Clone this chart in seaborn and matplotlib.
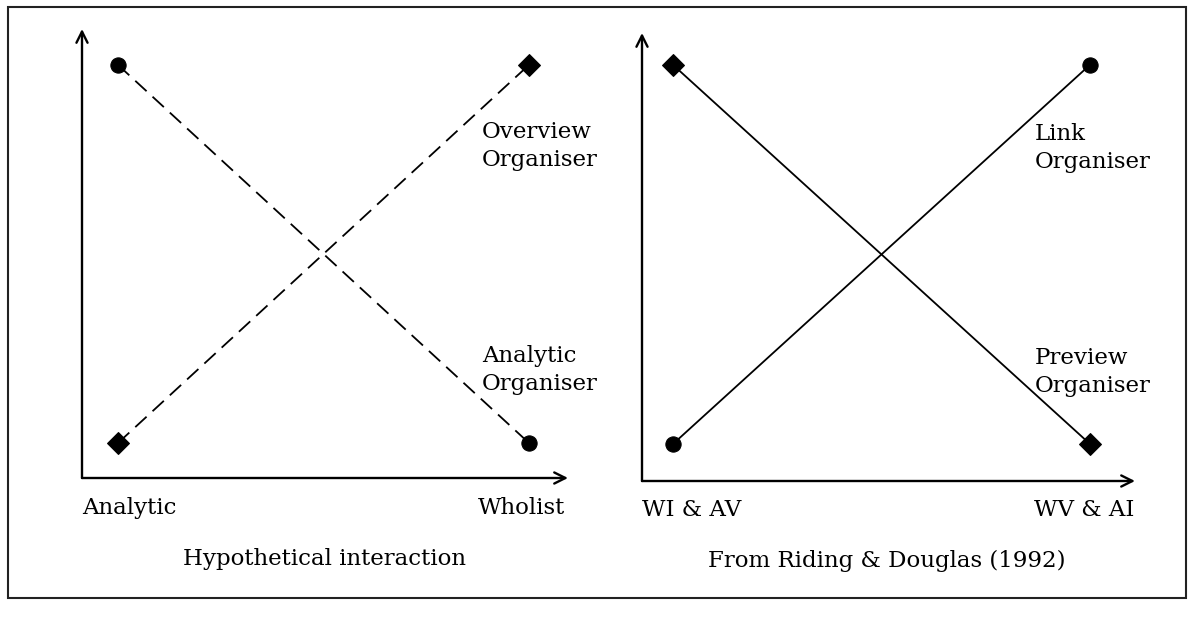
import pandas as pd
import matplotlib
matplotlib.use('Agg')
import matplotlib.pyplot as plt
import seaborn as sns
from matplotlib.patches import Rectangle

sns.set_style('white')
plt.rcParams['font.family'] = ['DejaVu Serif']
plt.rcParams['text.color'] = 'black'

# ---------------------------------------------------------
# Data
# ---------------------------------------------------------
positions = [0, 1]

# left panel: hypothetical interaction
left_ticks = ['Analytic', 'Wholist']
analytic_org = [1, 0]
overview_org = [0, 1]

# right panel: Riding & Douglas (1992)
right_ticks = ['WI & AV', 'WV & AI']
preview_org = [1, 0]
link_org = [0, 1]

left_df = pd.DataFrame({
    'x': positions * 2,
    'y': analytic_org + overview_org,
    'line': ['Analytic Organiser'] * 2 + ['Overview Organiser'] * 2,
})
right_df = pd.DataFrame({
    'x': positions * 2,
    'y': preview_org + link_org,
    'line': ['Preview Organiser'] * 2 + ['Link Organiser'] * 2,
})

W, H = 1194, 642
fig = plt.figure(figsize=(W / 100, H / 100), dpi=100)


def px(x, y):
    return x / W, 1 - y / H


def axes_px(x0, x1, ytop, ybot):
    return fig.add_axes([x0 / W, 1 - ybot / H, (x1 - x0) / W, (ybot - ytop) / H])


ax1 = axes_px(82, 568, 29, 478)
ax2 = axes_px(642, 1135, 33, 481)

sns.lineplot(data=left_df, x='x', y='y', hue='line', style='line',
             palette=['black', 'black'],
             markers={'Analytic Organiser': 'o', 'Overview Organiser': 'D'},
             dashes={'Analytic Organiser': (8.5, 4.5), 'Overview Organiser': (8.5, 4.5)},
             markersize=11, markeredgecolor='black', linewidth=1.3,
             legend=False, ax=ax1)
sns.lineplot(data=right_df, x='x', y='y', hue='line', style='line',
             palette=['black', 'black'],
             markers={'Preview Organiser': 'D', 'Link Organiser': 'o'},
             dashes={'Preview Organiser': '', 'Link Organiser': ''},
             markersize=11, markeredgecolor='black', linewidth=1.3,
             legend=False, ax=ax2)

ax1.set_xlim(-0.0876, 1.095)
ax1.set_ylim(-0.0926, 1.095)
ax2.set_xlim(-0.0743, 1.108)
ax2.set_ylim(-0.0976, 1.084)

for ax in (ax1, ax2):
    ax.set_xticks([])
    ax.set_yticks([])
    ax.set_xlabel('')
    ax.set_ylabel('')
    for s in ax.spines.values():
        s.set_visible(False)
    ax.patch.set_alpha(0)
    arrow = dict(arrowstyle='->,head_length=0.8,head_width=0.4', lw=1.7, color='black',
                 shrinkA=0, shrinkB=0)
    ax.annotate('', xy=(1, 0), xytext=(0, 0), xycoords='axes fraction', arrowprops=arrow)
    ax.annotate('', xy=(0, 1), xytext=(0, 0), xycoords='axes fraction', arrowprops=arrow)

fs = 16.5
# line labels
fig.text(*px(482, 146), 'Overview\nOrganiser', fontsize=fs, va='center', ha='left', linespacing=1.3)
fig.text(*px(482, 370), 'Analytic\nOrganiser', fontsize=fs, va='center', ha='left', linespacing=1.3)
fig.text(*px(1035, 148), 'Link\nOrganiser', fontsize=fs, va='center', ha='left', linespacing=1.3)
fig.text(*px(1035, 372), 'Preview\nOrganiser', fontsize=fs, va='center', ha='left', linespacing=1.3)

# axis end labels
fig.text(*px(82, 508), left_ticks[0], fontsize=fs, va='center', ha='left')
fig.text(*px(565, 508), left_ticks[1], fontsize=fs, va='center', ha='right')
fig.text(*px(642, 510), right_ticks[0], fontsize=fs, va='center', ha='left')
fig.text(*px(1134, 510), right_ticks[1], fontsize=fs, va='center', ha='right')

# panel captions
fig.text(*px(325, 559), 'Hypothetical interaction', fontsize=fs, va='center', ha='center')
fig.text(*px(887, 561), 'From Riding & Douglas (1992)', fontsize=fs, va='center', ha='center')

# outer frame
x0, y0 = px(8, 598)
x1, y1 = px(1186, 7)
fig.patches.append(Rectangle((x0, y0), x1 - x0, y1 - y0, transform=fig.transFigure,
                             fill=False, lw=1.5, edgecolor='#222222'))

fig.savefig('out.png', dpi=100)
plt.close(fig)
